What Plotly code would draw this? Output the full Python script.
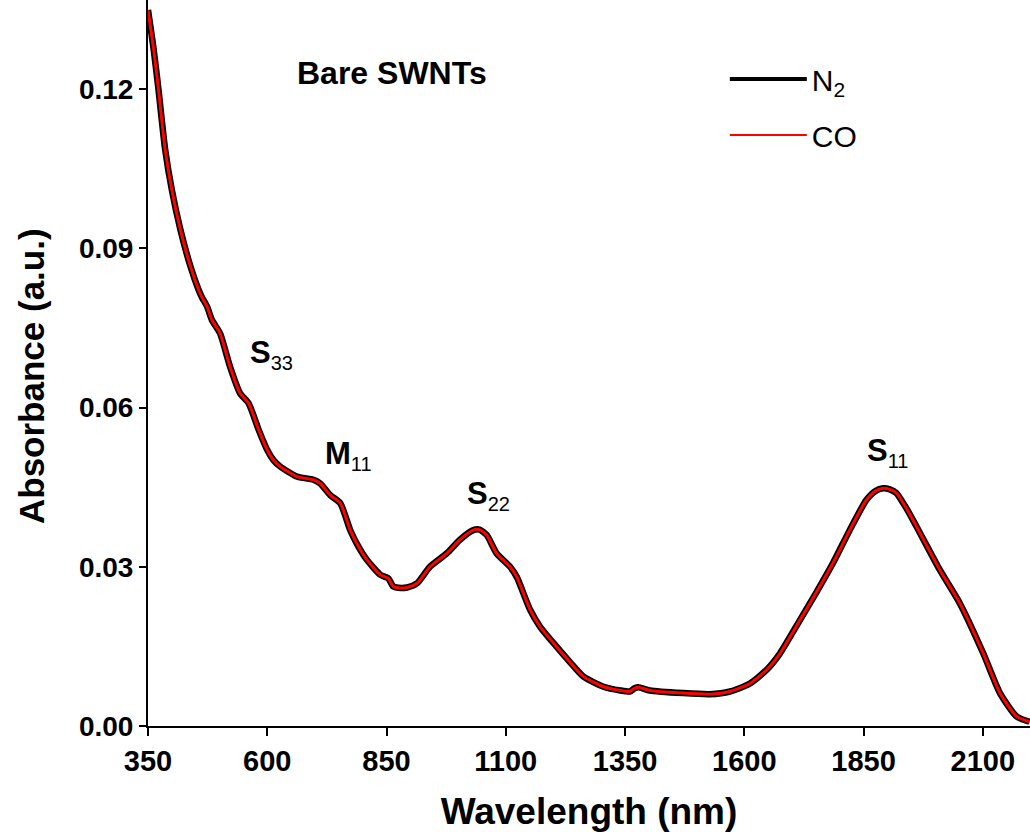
import plotly.graph_objects as go

wavelength_nm = [350, 362, 372, 386, 400, 418, 439, 456, 463, 474, 484, 501, 522, 543, 561, 582,
                 600, 613, 627, 662, 697, 711, 732, 753, 774, 790, 809, 837, 854, 864, 880, 893,
                 914, 941, 976, 1004, 1032, 1045, 1060, 1081, 1109, 1123, 1151, 1172, 1207, 1235,
                 1263, 1305, 1340, 1360, 1370, 1378, 1402, 1472, 1528, 1570, 1612, 1647, 1675,
                 1717, 1750, 1786, 1821, 1856, 1875, 1891, 1905, 1919, 1940, 1961, 2010, 2052,
                 2101, 2136, 2171, 2198]
absorbance_n2 = [0.1349, 0.1274, 0.1199, 0.1086, 0.1010, 0.0935, 0.0866, 0.0822, 0.0808, 0.0790,
                 0.0765, 0.0740, 0.0677, 0.0627, 0.0608, 0.0558, 0.0520, 0.0501, 0.0489, 0.0470,
                 0.0464, 0.0457, 0.0435, 0.0420, 0.0369, 0.0340, 0.0313, 0.0285, 0.0278, 0.0263,
                 0.0260, 0.0261, 0.0269, 0.0300, 0.0325, 0.0351, 0.0369, 0.0370, 0.0360, 0.0325,
                 0.0300, 0.0281, 0.0219, 0.0187, 0.0149, 0.0120, 0.0093, 0.0074, 0.0067, 0.0065,
                 0.0071, 0.0073, 0.0067, 0.0062, 0.0060, 0.0065, 0.0080, 0.0106, 0.0137, 0.0200,
                 0.0250, 0.0307, 0.0369, 0.0426, 0.0443, 0.0448, 0.0446, 0.0439, 0.0410, 0.0376,
                 0.0294, 0.0231, 0.0137, 0.0062, 0.0018, 0.0008]
absorbance_co = list(absorbance_n2)

x_ticks = [350, 600, 850, 1100, 1350, 1600, 1850, 2100]
y_ticks = [0.00, 0.03, 0.06, 0.09, 0.12]

peak_main = ["S", "M", "S", "S"]
peak_sub = ["33", "11", "22", "11"]
peak_x = [560, 717, 1015, 1853]
peak_y = [0.0700, 0.0510, 0.0435, 0.0516]

FONT = "Liberation Sans, Arial, sans-serif"

fig = go.Figure()
fig.add_trace(go.Scatter(x=wavelength_nm, y=absorbance_n2, mode="lines", name="N<sub>2</sub>",
                         line=dict(color="black", width=6.5, shape="spline", smoothing=0.6),
                         showlegend=False))
fig.add_trace(go.Scatter(x=wavelength_nm, y=absorbance_co, mode="lines", name="CO",
                         line=dict(color="#ff0000", width=3, shape="spline", smoothing=0.6),
                         showlegend=False))
# legend keys
fig.add_trace(go.Scatter(x=[None], y=[None], mode="lines", name="N<sub>2</sub>",
                         line=dict(color="black", width=4), legendgroup="a"))
fig.add_trace(go.Scatter(x=[None], y=[None], mode="lines", name="CO",
                         line=dict(color="#ff0000", width=2), legendgroup="b"))

for m, s, px, py in zip(peak_main, peak_sub, peak_x, peak_y):
    fig.add_annotation(x=px, y=py,
                       text="<b>%s</b><sub><span style='font-size:20px'>%s</span></sub>" % (m, s),
                       showarrow=False, xanchor="left", yanchor="middle",
                       font=dict(family=FONT, size=31, color="black"))

fig.add_annotation(x=862, y=0.1230, text="<b>Bare SWNTs</b>", showarrow=False,
                   xanchor="center", yanchor="middle",
                   font=dict(family=FONT, size=32, color="black"))

fig.add_annotation(x=0, y=(726 - 376) / 726, xref="paper", yref="paper",
                   text="<b>Absorbance (a.u.)</b>", textangle=-90, showarrow=False,
                   xanchor="center", yanchor="middle", xshift=-117,
                   font=dict(family=FONT, size=35, color="black"))

fig.update_layout(
    width=1030, height=832,
    margin=dict(l=148, r=0, t=0, b=106),
    paper_bgcolor="white", plot_bgcolor="white",
    font=dict(family=FONT, color="black"),
    legend=dict(x=0.654, y=0.927, xanchor="left", yanchor="top",
                font=dict(family=FONT, size=30, color="black"),
                bgcolor="rgba(0,0,0,0)", itemwidth=77, tracegroupgap=14,
                traceorder="grouped"),
    xaxis=dict(range=[350, 2199], tickvals=x_ticks, ticktext=[str(v) for v in x_ticks],
               showgrid=False, zeroline=False, showline=True, linecolor="black", linewidth=2,
               ticks="outside", ticklen=8, tickwidth=2, tickcolor="black",
               tickfont=dict(family=FONT, size=29, color="black", weight="bold"),
               title=dict(text="<b>Wavelength (nm)</b>", font=dict(family=FONT, size=37),
                          standoff=22)),
    yaxis=dict(range=[0, 0.1368], tickvals=y_ticks, ticktext=["%.2f" % v for v in y_ticks],
               showgrid=False, zeroline=False, showline=True, linecolor="black", linewidth=2,
               ticks="outside", ticklen=7, tickwidth=2, tickcolor="black",
               tickfont=dict(family=FONT, size=28, color="black", weight="bold")),
)

fig.write_html("out.html")
